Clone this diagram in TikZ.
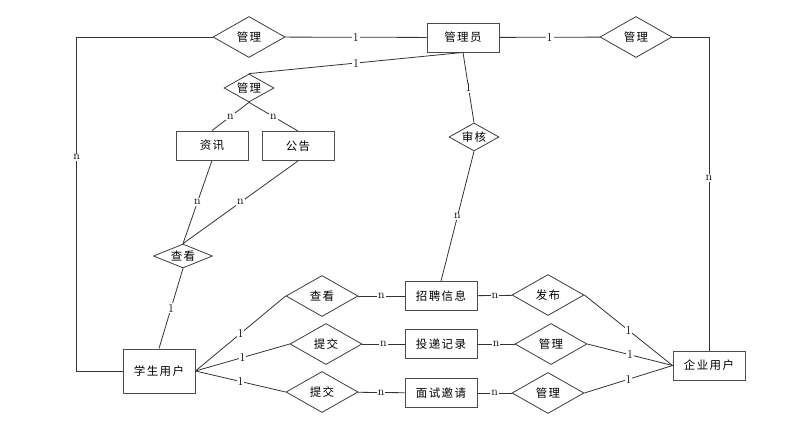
\documentclass[tikz,border=0pt]{standalone}
\usepackage{fontspec}
\newfontfamily\cjk[LetterSpace=12]{Noto Sans CJK SC}
\usetikzlibrary{positioning,shapes.geometric}

\begin{document}
\begin{tikzpicture}[
x = 1pt, y = -1pt,
every node/.style = {
	font = \fontsize{11.5}{13}\selectfont\cjk
},
entity/.style = {
	draw = black!70,
	line width = .9pt,
	minimum width = 72pt,
	minimum height = 29pt,
	inner sep = 0pt
},
relation/.style = {
	diamond,
	draw = black!80,
	line width = .75pt,
	minimum width = 72pt,
	minimum height = 41pt,
	inner sep = 0pt,
	aspect = 1.75
},
smallrel/.style = {
	relation,
	minimum width = 50pt,
	minimum height = 28pt,
	aspect = 1.79
},
card/.style = {
	font = \fontsize{12}{14}\selectfont\rmfamily,
	fill = white,
	inner sep = 1pt
},
link/.style = {
	draw = black!80,
	line width = .8pt
}
]
\useasboundingbox (0,0) rectangle (812,432);

\node[entity]	(admin)		at (463,37.5)	{管理员};
\node[relation]	(mgrstu)	at (249,37)		{管理};
\node[relation]	(mgrcom)	at (636,37)		{管理};
\node[smallrel]	(mgrinfo)	at (249,88)		{管理};
\node[entity]	(news)		at (212,145.5)	{资讯};
\node[entity]	(notice)	at (298,146)	{公告};
\node[smallrel]	(audit)		at (474,137)	{审核};
\node[smallrel, minimum width = 59pt, minimum height = 24pt, aspect = 2.4] (view) at (183,256) {查看};

\node[entity, minimum height = 44pt] (student) at (159,371) {学生用户};
\node[relation]	(viewjob)	at (322,296)	{查看};
\node[relation]	(submit)	at (326,344)	{提交};
\node[relation]	(submitb)	at (322,392)	{提交};
\node[entity]	(job)		at (441,296)	{招聘信息};
\node[entity]	(record)	at (441,344)	{投递记录};
\node[entity]	(invite)	at (441,393)	{面试邀请};
\node[relation]	(publish)	at (548,295)	{发布};
\node[relation]	(mgrrec)	at (551,344)	{管理};
\node[relation]	(mgrinv)	at (548,393)	{管理};
\node[entity]	(company)	at (709,365.5)	{企业用户};

% top row
\draw[link] (student.west) -- ++(-46,0) |- node[card, pos=.32] {n} (mgrstu.west);
\draw[link] (mgrstu) -- node[card] {1} (admin);
\draw[link] (admin) -- node[card] {1} (mgrcom);
\draw[link] (mgrcom.east) -| node[card, pos=.725] {n} (company.north);

% news and notices
\draw[link] (admin.south) -- node[card] {1} (mgrinfo.north);
\draw[link] (mgrinfo.south) -- node[card] {n} (news.north);
\draw[link] (mgrinfo.south) -- node[card] {n} (notice.north);
\draw[link] (news.south) -- node[card] {n} (view.north);
\draw[link] (notice.south) -- node[card] {n} (view.north);
\draw[link] (view.south) -- node[card] {1} (student.north);

% audit
\draw[link] (admin.south) -- node[card] {1} (audit.north);
\draw[link] (audit.south) -- node[card] {n} (job.north);

% student side
\draw[link] (student.east) -- node[card] {1} (viewjob.west);
\draw[link] (student.east) -- node[card] {1} (submit.west);
\draw[link] (student.east) -- node[card] {1} (submitb.west);
\draw[link] (viewjob) -- node[card] {n} (job);
\draw[link] (submit) -- node[card] {n} (record);
\draw[link] (submitb) -- node[card] {n} (invite);

% company side
\draw[link] (job) -- node[card] {n} (publish);
\draw[link] (record) -- node[card] {n} (mgrrec);
\draw[link] (invite) -- node[card] {n} (mgrinv);
\draw[link] (publish.east) -- node[card] {1} (company.west);
\draw[link] (mgrrec.east) -- node[card] {1} (company.west);
\draw[link] (mgrinv.east) -- node[card] {1} (company.west);
\end{tikzpicture}
\end{document}
